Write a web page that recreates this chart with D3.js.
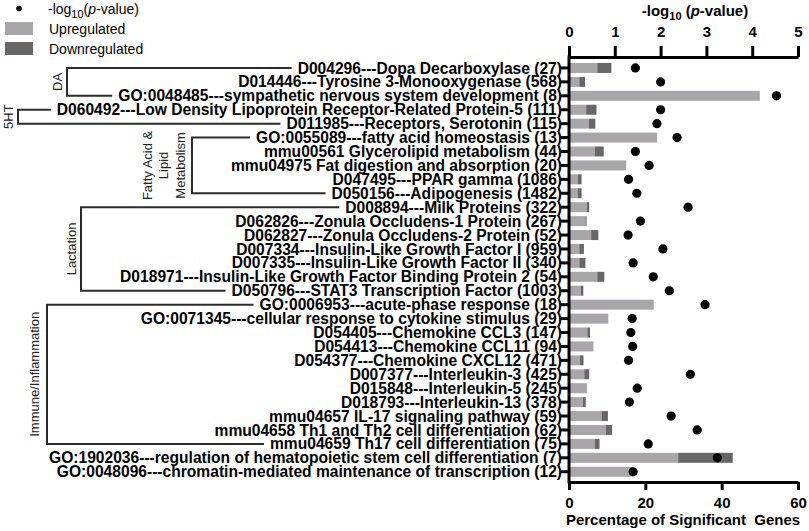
<!DOCTYPE html>
<html><head><meta charset="utf-8">
<script src="https://cdn.jsdelivr.net/npm/d3@7"></script>
<style>
body{margin:0;background:#fff}
svg{display:block}
text{font-family:"Liberation Sans",Arial,sans-serif}
</style>
</head><body>
<svg id="c" width="809" height="531"></svg>
<script>
// ---------------- data ----------------
const rows = [
  "D004296---Dopa Decarboxylase (27)",
  "D014446---Tyrosine 3-Monooxygenase (568)",
  "GO:0048485---sympathetic nervous system development (8)",
  "D060492---Low Density Lipoprotein Receptor-Related Protein-5 (111)",
  "D011985---Receptors, Serotonin (115)",
  "GO:0055089---fatty acid homeostasis (13)",
  "mmu00561 Glycerolipid metabolism (44)",
  "mmu04975 Fat digestion and absorption (20)",
  "D047495---PPAR gamma (1086)",
  "D050156---Adipogenesis (1482)",
  "D008894---Milk Proteins (322)",
  "D062826---Zonula Occludens-1 Protein (267)",
  "D062827---Zonula Occludens-2 Protein (52)",
  "D007334---Insulin-Like Growth Factor I (959)",
  "D007335---Insulin-Like Growth Factor II (340)",
  "D018971---Insulin-Like Growth Factor Binding Protein 2 (54)",
  "D050796---STAT3 Transcription Factor (1003)",
  "GO:0006953---acute-phase response (18)",
  "GO:0071345---cellular response to cytokine stimulus (29)",
  "D054405---Chemokine CCL3 (147)",
  "D054413---Chemokine CCL11 (94)",
  "D054377---Chemokine CXCL12 (471)",
  "D007377---Interleukin-3 (425)",
  "D015848---Interleukin-5 (245)",
  "D018793---Interleukin-13 (378)",
  "mmu04657 IL-17 signaling pathway (59)",
  "mmu04658 Th1 and Th2 cell differentiation (62)",
  "mmu04659 Th17 cell differentiation (75)",
  "GO:1902036---regulation of hematopoietic stem cell differentiation (7)",
  "GO:0048096---chromatin-mediated maintenance of transcription (12)"
];
const upregulated = [7.4, 2.7, 50.0, 4.5, 5.2, 23.1, 6.8, 15.0, 2.3, 2.3,
  4.7, 4.3, 5.8, 2.7, 2.7, 7.4, 3.1, 22.2, 10.3, 4.8,
  6.4, 2.9, 4.0, 4.7, 3.6, 8.5, 9.7, 6.7, 28.6, 16.7];
const downregulated = [3.7, 1.5, 0, 2.7, 1.7, 0, 2.3, 0, 1.0, 1.0,
  0.6, 0.3, 1.9, 1.2, 1.6, 1.85, 0.65, 0, 0, 0.7,
  0, 0.9, 1.3, 0, 0.8, 1.7, 1.6, 1.3, 14.3, 0];
const negLog10P = [1.45, 2.0, 4.53, 2.0, 1.92, 2.36, 1.45, 1.75, 1.3, 1.48,
  2.6, 1.56, 1.29, 2.05, 1.4, 1.84, 2.19, 2.97, 1.38, 1.35,
  1.39, 1.3, 2.65, 1.49, 1.32, 2.23, 2.8, 1.73, 3.24, 1.4];
const pTicks = [0, 1, 2, 3, 4, 5];
const pctTicks = [0, 20, 40, 60];
const groupNames = [["DA"], ["5HT"], ["Fatty Acid &", "Lipid", "Metabolism"], ["Lactation"], ["Immune/Inflammation"]];
const groupFirst = [0, 3, 5, 10, 17];
const groupLast = [2, 4, 9, 16, 27];
const legendLabels = ["Upregulated", "Downregulated"];

// ---------------- layout ----------------
const colUp = "#a8a6a9", colDown = "#696667";
const svg = d3.select("#c");
const xP = d3.scaleLinear().domain([0, 5]).range([569, 798]);
const xPct = d3.scaleLinear().domain([0, 60]).range([569, 798]);
const y = d3.scaleBand().domain(rows).range([61, 478.7]).padding(0);
const yc = r => y(r) + y.bandwidth() / 2;
const barH = 10;

// bars
const data = rows.map((r, i) => ({r, up: upregulated[i], down: downregulated[i], p: negLog10P[i]}));
svg.append("g").selectAll("rect").data(data).join("rect")
  .attr("x", xPct(0)).attr("y", d => yc(d.r) - barH / 2)
  .attr("width", d => xPct(d.up) - xPct(0)).attr("height", barH).attr("fill", colUp);
svg.append("g").selectAll("rect").data(data.filter(d => d.down > 0)).join("rect")
  .attr("x", d => xPct(d.up)).attr("y", d => yc(d.r) - barH / 2)
  .attr("width", d => xPct(d.up + d.down) - xPct(d.up)).attr("height", barH).attr("fill", colDown);
// dots
svg.append("g").selectAll("circle").data(data).join("circle")
  .attr("cx", d => xP(d.p)).attr("cy", d => yc(d.r)).attr("r", 4.6).attr("fill", "#000");

// axes
function styleAxis(g) {
  g.selectAll(".domain").attr("stroke", "#000").attr("stroke-width", 3);
  g.selectAll(".tick line").attr("stroke", "#000").attr("stroke-width", 3);
  g.selectAll(".tick text").attr("font-family", "Liberation Sans, Arial, sans-serif")
    .attr("font-weight", "bold").attr("font-size", 15).attr("fill", "#000");
}
const topAxis = svg.append("g").attr("transform", "translate(0,57)")
  .call(d3.axisTop(xP).tickValues(pTicks).tickFormat(d3.format("d")).tickSize(11).tickSizeOuter(0).tickPadding(9));
styleAxis(topAxis);
const botAxis = svg.append("g").attr("transform", "translate(0,482)")
  .call(d3.axisBottom(xPct).tickValues(pctTicks).tickSize(8).tickSizeOuter(0).tickPadding(7));
styleAxis(botAxis);
const leftAxis = svg.append("g").attr("transform", "translate(569,0)")
  .call(d3.axisLeft(y).tickSize(8).tickFormat(""));
styleAxis(leftAxis);
leftAxis.select(".domain").remove();
svg.append("line").attr("x1", 569).attr("x2", 569).attr("y1", 55.5).attr("y2", 483.5)
  .attr("stroke", "#000").attr("stroke-width", 3);

// row labels
const labelX = 562;
const labels = svg.append("g").selectAll("text").data(rows).join("text")
  .attr("x", labelX).attr("y", d => yc(d) + 5.6)
  .attr("text-anchor", "end").attr("font-weight", "bold").attr("font-size", 15.6)
  .attr("fill", "#000").text(d => d);
const textStart = {};
labels.each(function(d) { textStart[d] = labelX - this.getComputedTextLength(); });

// brackets
const bracketX = [67, 18, 192, 81, 47];
const labelCx = [[57], [8], [147, 163.5, 180], [71], [34]];
const gap = 6;
groupNames.forEach((names, gi) => {
  const rTop = rows[groupFirst[gi]], rBot = rows[groupLast[gi]];
  const y1 = yc(rTop), y2 = yc(rBot);
  const p = d3.path();
  p.moveTo(textStart[rTop] - gap, y1);
  p.lineTo(bracketX[gi], y1);
  p.lineTo(bracketX[gi], y2);
  p.lineTo(textStart[rBot] - gap, y2);
  svg.append("path").attr("d", p.toString()).attr("fill", "none")
    .attr("stroke", "#2b2b2b").attr("stroke-width", 2);
  const cy = (y1 + y2) / 2;
  names.forEach((n, li) => {
    svg.append("text").attr("transform", `translate(${labelCx[gi][li]},${cy}) rotate(-90)`)
      .attr("dy", "0.35em").attr("text-anchor", "middle").attr("font-size", 13)
      .attr("fill", "#222").text(n);
  });
});

// axis titles
const tt = svg.append("text").attr("x", 695).attr("y", 16).attr("text-anchor", "middle")
  .attr("font-weight", "bold").attr("font-size", 15).attr("fill", "#000");
tt.append("tspan").text("-log");
tt.append("tspan").attr("font-size", 11).attr("dy", 4).text("10");
tt.append("tspan").attr("dy", -4).text(" (");
tt.append("tspan").attr("font-style", "italic").text("p");
tt.append("tspan").text("-value)");
svg.append("text").attr("x", 683).attr("y", 525).attr("text-anchor", "middle")
  .attr("font-weight", "bold").attr("font-size", 15).attr("fill", "#000")
  .attr("xml:space", "preserve").style("white-space", "pre")
  .text("Percentage of Significant  Genes");

// legend
const lg = svg.append("g");
lg.append("circle").attr("cx", 19).attr("cy", 8.5).attr("r", 2.8).attr("fill", "#000");
const lt = lg.append("text").attr("x", 48).attr("y", 14).attr("font-size", 14).attr("fill", "#000");
lt.append("tspan").text("-log");
lt.append("tspan").attr("font-size", 11).attr("dy", 4).text("10");
lt.append("tspan").attr("dy", -4).text("(");
lt.append("tspan").attr("font-style", "italic").text("p");
lt.append("tspan").text("-value)");
[colUp, colDown].forEach((c, i) => {
  lg.append("rect").attr("x", 5).attr("y", 22 + i * 20).attr("width", 28).attr("height", 13).attr("fill", c);
  lg.append("text").attr("x", 49).attr("y", 34 + i * 20).attr("font-size", 14).attr("fill", "#000").text(legendLabels[i]);
});
</script>
</body></html>
